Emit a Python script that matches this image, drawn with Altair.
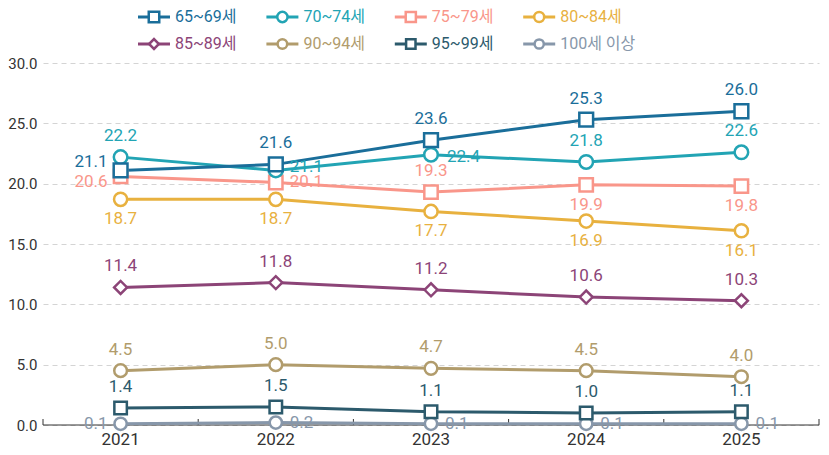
import altair as alt
import pandas as pd

years = [2021, 2022, 2023, 2024, 2025]
series_names = ["65~69세", "70~74세", "75~79세", "80~84세", "85~89세", "90~94세", "95~99세", "100세 이상"]
colors = ["#1a6e9a", "#22a4b4", "#f9968a", "#e8b13f", "#8c4477", "#b19c6c", "#2c5a6c", "#8797aa"]
shapes = ["square", "circle", "square", "circle", "diamond", "circle", "square", "circle"]

v_65 = [21.1, 21.6, 23.6, 25.3, 26.0]
v_70 = [22.2, 21.1, 22.4, 21.8, 22.6]
v_75 = [20.6, 20.1, 19.3, 19.9, 19.8]
v_80 = [18.7, 18.7, 17.7, 16.9, 16.1]
v_85 = [11.4, 11.8, 11.2, 10.6, 10.3]
v_90 = [4.5, 5.0, 4.7, 4.5, 4.0]
v_95 = [1.4, 1.5, 1.1, 1.0, 1.1]
v_100 = [0.1, 0.2, 0.1, 0.1, 0.1]
all_values = [v_65, v_70, v_75, v_80, v_85, v_90, v_95, v_100]

# where each value label sits relative to its marker
side_65 = ["upleft", "above", "above", "above", "above"]
side_70 = ["above", "upright", "downright", "above", "above"]
side_75 = ["downleft", "right", "above", "below", "below"]
side_80 = ["below", "below", "below", "below", "below"]
side_85 = ["above", "above", "above", "above", "above"]
side_90 = ["above", "above", "above", "above", "above"]
side_95 = ["above", "above", "above", "above", "above"]
side_100 = ["left", "right", "right", "right", "right"]
all_sides = [side_65, side_70, side_75, side_80, side_85, side_90, side_95, side_100]

FONT = "Roboto, Noto Sans CJK KR"

rows = []
for i, (name, vals, sides) in enumerate(zip(series_names, all_values, all_sides)):
    for y, v, s in zip(years, vals, sides):
        rows.append({"series": name, "order": i, "year": y, "value": v, "side": s,
                     "label": f"{v:.1f}"})
df = pd.DataFrame(rows)
# draw first series last (on top)
df_draw = df.sort_values(["order", "year"], ascending=[False, True])

boundaries = pd.DataFrame({"b": [y - 0.5 for y in years] + [years[-1] + 0.5]})
year_df = pd.DataFrame({"year": years, "ylab": [str(y) for y in years]})
axis_df = pd.DataFrame({"start": [years[0] - 0.5], "end": [years[-1] + 0.5], "zero": [0]})

W, H = 776, 417          # plot area; top part hosts the legend
TOP30 = 55               # pixel of the 30.0 gridline from the plot top
YMAX = 30 * H / (H - TOP30)

xscale = alt.Scale(domain=[years[0] - 0.5, years[-1] + 0.5], nice=False, zero=False)
yscale = alt.Scale(domain=[0, YMAX], nice=False)
color_enc = alt.Color("series:N", scale=alt.Scale(domain=series_names, range=colors), legend=None)
shape_enc = alt.Shape("series:N", scale=alt.Scale(domain=series_names, range=shapes), legend=None)
x_enc = alt.X("year:Q", scale=xscale, axis=None)
y_enc = alt.Y("value:Q", scale=yscale,
              axis=alt.Axis(values=[0, 5, 10, 15, 20, 25, 30], format=".1f", ticks=False,
                            domain=False, grid=True, gridDash=[5, 4], gridColor="#d4d4d4",
                            gridWidth=1, title=None, labelFontSize=15, labelPadding=6,
                            labelColor="#333", labelFont=FONT))

base = alt.Chart(df_draw).encode(x=x_enc, y=y_enc, color=color_enc)

lines = base.mark_line(strokeWidth=3).encode(detail="series:N", order="year:Q")
points = base.mark_point(filled=False, fill="white", opacity=1, strokeWidth=2.5).encode(
    shape=shape_enc,
    size=alt.Size("series:N", scale=alt.Scale(domain=series_names,
                                                range=[190, 150, 190, 150, 230, 150, 190, 150]),
                  legend=None))

offsets = {
    "above": dict(dx=0, dy=-21, align="center"),
    "below": dict(dx=0, dy=20, align="center"),
    "left": dict(dx=-13, dy=0, align="right"),
    "upleft": dict(dx=-13, dy=-8, align="right"),
    "downleft": dict(dx=-13, dy=6, align="right"),
    "right": dict(dx=14, dy=0, align="left"),
    "upright": dict(dx=14, dy=-3, align="left"),
    "downright": dict(dx=16, dy=2, align="left"),
}
text_layers = []
for side, o in offsets.items():
    text_layers.append(
        base.transform_filter(alt.datum.side == side)
        .mark_text(fontSize=17, baseline="middle", font=FONT, **o)
        .encode(text="label:N")
    )

axis_line = alt.Chart(axis_df).mark_rule(color="#333", strokeWidth=1).encode(
    x=alt.X("start:Q", scale=xscale, axis=None), x2="end:Q",
    y=alt.Y("zero:Q", scale=yscale))
ticks = alt.Chart(boundaries).mark_rule(color="#333", strokeWidth=1).encode(
    x=alt.X("b:Q", scale=xscale, axis=None),
    y=alt.value(H), y2=alt.value(H - 6))

year_labels = alt.Chart(year_df).mark_text(
    fontSize=17, font=FONT, color="#333", baseline="middle", fontWeight="normal"
).encode(x=alt.X("year:Q", scale=xscale, axis=None), y=alt.value(H + 15), text="ylab:N")

main = alt.layer(axis_line, ticks, lines, points, year_labels, *text_layers)

# legend (own scales, drawn in the top strip of the plot)
leg = pd.DataFrame({"series": series_names,
                    "col": [i % 4 for i in range(len(series_names))],
                    "row": [i // 4 for i in range(len(series_names))]})
COL0, COLSTEP, ROW0, ROWSTEP = 111, 128.4, 9, 27
lx = alt.X("col:Q", scale=alt.Scale(domain=[-COL0 / COLSTEP, -COL0 / COLSTEP + W / COLSTEP],
                                    nice=False, zero=False), axis=None)
ly = alt.Y("row:Q", scale=alt.Scale(domain=[-ROW0 / ROWSTEP, -ROW0 / ROWSTEP + H / ROWSTEP],
                                    reverse=True, nice=False, zero=False), axis=None)
lbase = alt.Chart(leg).encode(x=lx, y=ly, color=color_enc)
l_rule = lbase.mark_rule(strokeWidth=3, xOffset=-16, x2Offset=16).encode(x2="col:Q")
l_pt = lbase.mark_point(filled=False, fill="white", opacity=1, strokeWidth=2.5).encode(
    shape=shape_enc,
    size=alt.Size("series:N", scale=alt.Scale(domain=series_names,
                                                range=[110, 85, 110, 85, 130, 85, 110, 85]),
                  legend=None))
l_txt = lbase.mark_text(align="left", dx=21, baseline="middle", fontSize=16, font=FONT,
                        color="#222").encode(text="series:N")
legend = alt.layer(l_rule, l_pt, l_txt)

chart = alt.layer(main, legend).resolve_scale(
    x="independent", y="independent", size="independent"
).properties(
    width=W, height=H, background="white",
    autosize=alt.AutoSizeParams(type="none"),
    padding={"left": 35, "top": 0, "right": 2, "bottom": 24},
).configure_view(stroke=None)

chart.save("out.html", embed_options={"renderer": "svg", "actions": False})
